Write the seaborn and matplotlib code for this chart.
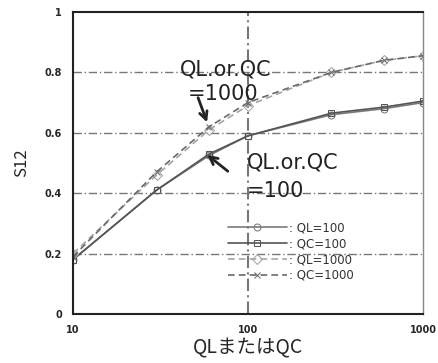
import matplotlib
matplotlib.use("Agg")
import matplotlib.pyplot as plt
import seaborn as sns
import pandas as pd
from matplotlib.ticker import FixedLocator, NullLocator

sns.set_style("white")
plt.rcParams['font.family'] = ['Noto Sans CJK JP', 'DejaVu Sans']

q_values = [10, 30, 60, 100, 300, 600, 1000]
s12_ql100 = [0.18, 0.41, 0.525, 0.59, 0.66, 0.68, 0.70]
s12_qc100 = [0.18, 0.41, 0.53, 0.59, 0.665, 0.685, 0.705]
s12_ql1000 = [0.20, 0.46, 0.61, 0.69, 0.80, 0.84, 0.855]
s12_qc1000 = [0.19, 0.47, 0.62, 0.70, 0.80, 0.84, 0.855]
series_names = [': QL=100', ': QC=100', ': QL=1000', ': QC=1000']
x_tick_labels = ['10', '100', '1000']
y_tick_labels = ['0', '0.2', '0.4', '0.6', '0.8', '1']

fig = plt.figure(figsize=(4.38, 3.63), dpi=100)
ax = fig.add_axes([0.1667, 0.135, 0.799, 0.832])

styles = [
    dict(color='#7a7a7a', marker='o', linestyle='-'),
    dict(color='#555555', marker='s', linestyle='-'),
    dict(color='#a5a5a5', marker='D', linestyle=(0, (4, 2.5))),
    dict(color='#6a6a6a', marker='x', linestyle=(0, (4, 2.5))),
]
all_series = [s12_ql100, s12_qc100, s12_ql1000, s12_qc1000]
for name, vals, st in zip(series_names, all_series, styles):
    df = pd.DataFrame({'q': q_values, 's': vals})
    sns.lineplot(data=df, x='q', y='s', ax=ax, color=st['color'],
                 marker=st['marker'], linestyle=st['linestyle'],
                 markersize=5, markerfacecolor='none',
                 markeredgecolor=st['color'], linewidth=1.2, label=name)

ax.set_xscale('log')
ax.set_xlim(10, 1000)
ax.set_ylim(0, 1)
ax.xaxis.set_major_locator(FixedLocator([10, 100, 1000]))
ax.xaxis.set_minor_locator(NullLocator())
ax.set_xticklabels(x_tick_labels, fontsize=7, fontweight='bold', family=['DejaVu Sans'])
ax.set_yticks([0, 0.2, 0.4, 0.6, 0.8, 1.0])
ax.set_yticklabels(y_tick_labels, fontsize=7, fontweight='bold', family=['DejaVu Sans'])
ax.tick_params(axis='both', length=0, pad=8)

for y in [0.2, 0.4, 0.6, 0.8]:
    ax.axhline(y, color='#777777', linewidth=1.0, linestyle=(0, (6, 2, 1, 2)), zorder=0)
ax.axvline(100, color='#777777', linewidth=1.5, linestyle=(0, (6, 2, 1, 2)), zorder=0)

for sp in ax.spines.values():
    sp.set_color('#222222')
    sp.set_linewidth(1.5)
ax.spines['right'].set_color('#888888')
ax.spines['right'].set_linewidth(1.0)

ax.set_xlabel('QLまたはQC', fontsize=14, labelpad=1)
ax.set_ylabel('S12', fontsize=12, labelpad=10)

txt_kw = dict(fontsize=15, family=['DejaVu Sans'], color='#222222', va='baseline')
ax.text(40.8, 0.79, 'QL.or.QC', **txt_kw)
ax.text(45.4, 0.709, '=1000', **txt_kw)
ax.annotate('', xy=(59.1, 0.626), xytext=(51.2, 0.725),
            arrowprops=dict(arrowstyle='->', color='#222222', lw=2, mutation_scale=14))
ax.text(98.7, 0.483, 'QL.or.QC', **txt_kw)
ax.text(98.7, 0.387, '=100', **txt_kw)
ax.annotate('', xy=(56.8, 0.533), xytext=(78.9, 0.467),
            arrowprops=dict(arrowstyle='->', color='#222222', lw=2, mutation_scale=14))

leg = ax.legend(loc='upper left', bbox_to_anchor=(0.425, 0.327), frameon=False,
                prop={'family': ['DejaVu Sans'], 'size': 8.5},
                handlelength=5.0, labelspacing=0.25, borderpad=0.0,
                handletextpad=0.2)
for t in leg.get_texts():
    t.set_color('#333333')

fig.savefig('out.png', dpi=100)
